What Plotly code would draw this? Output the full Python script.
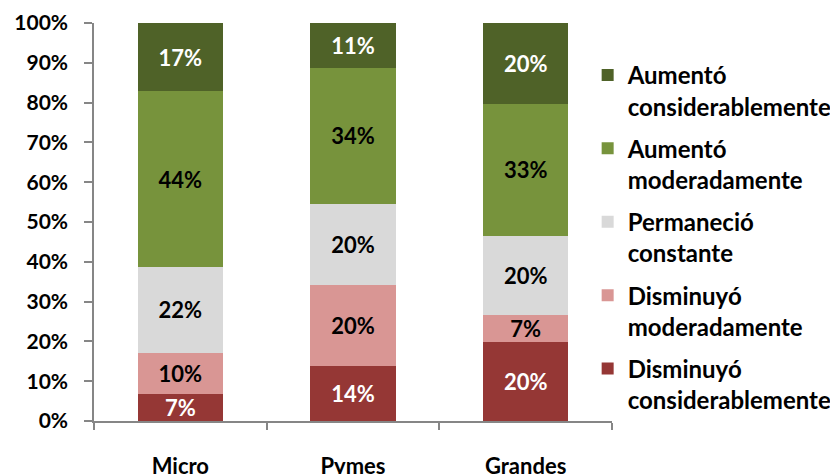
import plotly.graph_objects as go

categories = ["Micro", "Pymes", "Grandes"]
series_names = [
    "Disminuyó<br>considerablemente",
    "Disminuyó<br>moderadamente",
    "Permaneció<br>constante",
    "Aumentó<br>moderadamente",
    "Aumentó<br>considerablemente",
]
dism_consid = [6.9, 13.8, 19.9]
dism_moder = [10.3, 20.4, 6.8]
perm_const = [21.6, 20.4, 19.8]
aum_moder = [44.0, 34.2, 33.2]
aum_consid = [17.2, 11.2, 20.3]
tick_vals = [0, 10, 20, 30, 40, 50, 60, 70, 80, 90, 100]
tick_text = ["0%", "10%", "20%", "30%", "40%", "50%", "60%", "70%", "80%", "90%", "100%"]

values = [dism_consid, dism_moder, perm_const, aum_moder, aum_consid]
colors = ["#953735", "#D99694", "#D9D9D9", "#77933C", "#4F6228"]
text_colors = ["#FFFFFF", "#000000", "#000000", "#000000", "#FFFFFF"]

FONT = "Lato"
fig = go.Figure()
n = len(series_names)
for i, (name, vals) in enumerate(zip(series_names, values)):
    fig.add_trace(go.Bar(
        x=categories, y=vals, name=name,
        marker=dict(color=colors[i], line=dict(width=0)),
        texttemplate="%{y:.0f}%", textposition="inside",
        insidetextanchor="middle", textangle=0, constraintext="none",
        textfont=dict(family=FONT, size=22, color=text_colors[i], weight="bold"),
        legendgroup=f"g{i}", legendrank=n - i, hoverinfo="skip",
    ))

# The page body has an 8px margin, so the figure is sized to fit the window.
fig.update_layout(
    barmode="stack",
    bargap=0.505,
    width=830, height=466,
    margin=dict(l=85.5, r=225.5, t=14.7, b=53.3, autoexpand=False),
    paper_bgcolor="white", plot_bgcolor="white",
    font=dict(family=FONT, size=20, color="#000000", weight="bold"),
    legend=dict(
        x=0.953, xanchor="left", y=0.925, yanchor="top",
        traceorder="grouped", tracegroupgap=8,
        font=dict(family=FONT, size=24, color="#000000", weight="bold"),
        valign="top", itemwidth=30, bgcolor="rgba(0,0,0,0)",
    ),
)
fig.update_yaxes(
    range=[0, 100], tickmode="array", tickvals=tick_vals, ticktext=tick_text,
    showgrid=False, zeroline=False,
    showline=True, linecolor="#868686", linewidth=1.5,
    ticks="outside", ticklen=8, tickcolor="#868686", tickwidth=1.5,
    ticklabelstandoff=12,
    tickfont=dict(family=FONT, size=21, color="#000000", weight="bold"),
)
fig.update_xaxes(
    showgrid=False, zeroline=False,
    showline=True, linecolor="#868686", linewidth=1.5,
    ticks="outside", tickson="boundaries", ticklen=7, tickcolor="#868686", tickwidth=1.5,
    ticklabelstandoff=25,
    tickfont=dict(family=FONT, size=22, color="#000000", weight="bold"),
)

fig.write_html("out.html")
